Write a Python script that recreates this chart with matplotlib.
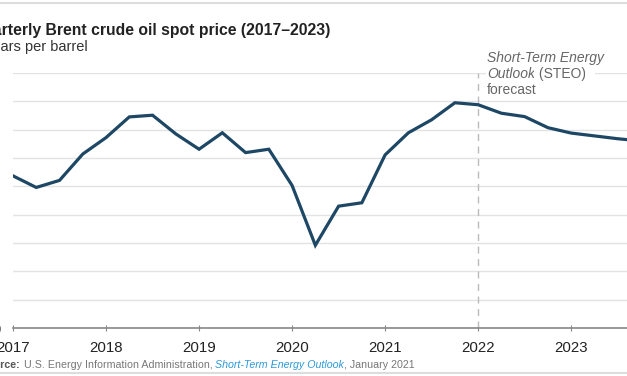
import matplotlib
matplotlib.use("Agg")
import matplotlib.pyplot as plt
import numpy as np

plt.rcParams['font.family'] = ['Liberation Sans', 'DejaVu Sans']

# quarterly Brent spot price, dollars per barrel
years = [2017, 2018, 2019, 2020, 2021, 2022, 2023]
prices = [53.7, 49.6, 52.1, 61.4,
          67.2, 74.5, 75.1, 68.5,
          63.1, 68.9, 61.9, 63.1,
          50.3, 29.2, 43.0, 44.2,
          61.1, 68.9, 73.5, 79.5,
          78.8, 75.8, 74.6, 70.7,
          68.8, 67.8, 66.8, 66.0]
quarters = np.array([y + q / 4 for y in years for q in range(4)])
yticks = list(range(0, 100, 10))
forecast_start = 2022

line_col = '#1d4764'
grey = '#666666'

fig = plt.figure(figsize=(6.27, 3.76), dpi=100)
ax = fig.add_axes([13 / 627, 48 / 376, 614 / 627, 255 / 376])

ax.plot(quarters, prices, color=line_col, lw=2.3, solid_joinstyle='miter', zorder=3)
ax.axvline(forecast_start, color='#bbbbbb', lw=1, ls=(0, (5, 4)), zorder=2)

ax.set_xlim(2017, 2023.6)
ax.set_ylim(0, 90)
ax.set_yticks(yticks)
ax.set_xticks(years)
ax.set_xticklabels([str(y) for y in years])
ax.grid(axis='y', color='#e3e3e3', lw=1)
ax.set_axisbelow(True)
for s in ['top', 'right', 'left']:
    ax.spines[s].set_visible(False)
ax.spines['bottom'].set_color('#888888')
ax.spines['bottom'].set_linewidth(1.2)
ax.tick_params(axis='x', direction='inout', length=5, color='#888888', labelsize=10.8,
               labelcolor='#222222', pad=7)
ax.tick_params(axis='y', length=0, labelsize=10.5, labelcolor='#222222', pad=9)

# forecast note
ax.annotate('Short-Term Energy', xy=(0, 0), xycoords='figure pixels',
            xytext=(487, 376 - 58), textcoords='figure pixels',
            fontsize=10, color=grey, style='italic', va='center', ha='left',
            annotation_clip=False)
t2 = ax.annotate('Outlook', xy=(0, 0), xycoords='figure pixels',
                 xytext=(487, 376 - 74), textcoords='figure pixels',
                 fontsize=10, color=grey, style='italic', va='center', ha='left',
                 annotation_clip=False,
                 bbox=dict(facecolor='white', edgecolor='none', pad=1))
t3 = ax.annotate(' (STEO)', xy=(1, 0.5), xycoords=t2, va='center', ha='left',
                 fontsize=10, color=grey, annotation_clip=False,
                 bbox=dict(facecolor='white', edgecolor='none', pad=1))
ax.annotate('  ', xy=(1, 0.5), xycoords=t3, va='center', ha='left',
            fontsize=10, color=grey, annotation_clip=False,
            bbox=dict(facecolor='white', edgecolor='none', pad=1))
ax.annotate('forecast', xy=(0, 0), xycoords='figure pixels',
            xytext=(487, 376 - 90), textcoords='figure pixels',
            fontsize=10, color=grey, va='center', ha='left', annotation_clip=False,
            bbox=dict(facecolor='white', edgecolor='none', pad=1))

# titles
fig.text(-29 / 627, 1 - 30 / 376, 'Quarterly Brent crude oil spot price (2017\u20132023)',
         fontsize=11.3, fontweight='bold', color='#222222', va='center', ha='left')
fig.text(-25 / 627, 1 - 47 / 376, 'Dollars per barrel', fontsize=10.5,
         color='#333333', va='center', ha='left')

# source line
s1 = ax.annotate('Source:', xy=(-19, 376 - 365), xycoords='figure pixels',
                 fontsize=7.7, fontweight='bold', color='#555555', va='center', ha='left',
                 annotation_clip=False)
s2 = ax.annotate(' U.S. Energy Information Administration, ', xy=(1, 0), xycoords=s1,
                 fontsize=7.7, color='#777777', va='bottom', ha='left', annotation_clip=False)
s3 = ax.annotate('Short-Term Energy Outlook', xy=(1, 0), xycoords=s2,
                 fontsize=7.7, color='#2b9ad8', style='italic', va='bottom', ha='left',
                 annotation_clip=False)
ax.annotate(', January 2021', xy=(1, 0), xycoords=s3,
            fontsize=7.7, color='#777777', va='bottom', ha='left', annotation_clip=False)

# frame lines at top and bottom
fig.add_artist(plt.Line2D([0, 1], [1 - 3 / 376, 1 - 3 / 376], color='#dddddd', lw=1.5))
fig.add_artist(plt.Line2D([0, 1], [3 / 376, 3 / 376], color='#dddddd', lw=1.5))

fig.savefig('out.png', dpi=100)
